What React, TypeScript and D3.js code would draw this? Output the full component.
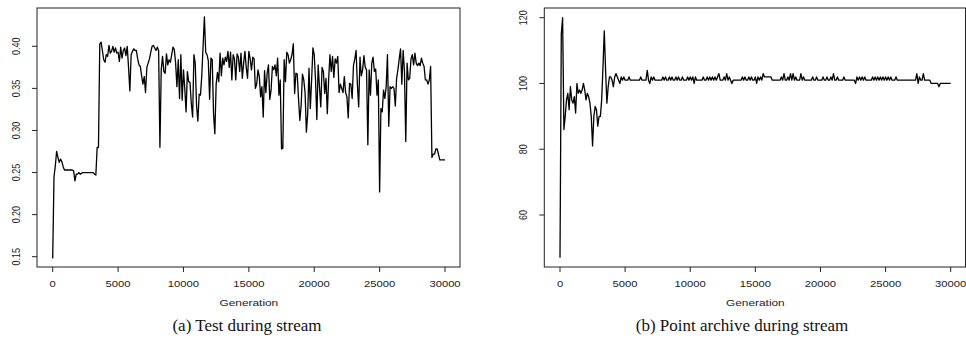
import React from 'react';
import * as d3 from 'd3';

// one sample every 100 generations, 0..30000
const STEP = 100;

const testValues = [
  0.148, 0.245, 0.258, 0.275, 0.268, 0.262, 0.266, 0.263, 0.257, 0.253,
  0.253, 0.253, 0.253, 0.253, 0.253, 0.253, 0.252, 0.240, 0.248, 0.248,
  0.250, 0.248, 0.249, 0.250, 0.250, 0.250, 0.250, 0.250, 0.250, 0.250,
  0.250, 0.250, 0.248, 0.247, 0.280, 0.280, 0.403, 0.405, 0.395, 0.384,
  0.381, 0.390, 0.388, 0.401, 0.392, 0.394, 0.400, 0.393, 0.398, 0.392,
  0.393, 0.382, 0.399, 0.386, 0.395, 0.398, 0.389, 0.400, 0.375, 0.347,
  0.390, 0.394, 0.397, 0.395, 0.395, 0.385, 0.378, 0.376, 0.365, 0.355,
  0.364, 0.345, 0.375, 0.380, 0.385, 0.393, 0.400, 0.401, 0.398, 0.395,
  0.399, 0.395, 0.280, 0.372, 0.388, 0.370, 0.368, 0.391, 0.378, 0.384,
  0.381, 0.390, 0.399, 0.396, 0.380, 0.352, 0.384, 0.338, 0.390, 0.336,
  0.372, 0.350, 0.322, 0.370, 0.358, 0.357, 0.332, 0.316, 0.390, 0.380,
  0.330, 0.311, 0.343, 0.342, 0.365, 0.400, 0.435, 0.393, 0.390, 0.383,
  0.337, 0.386, 0.384, 0.320, 0.296, 0.355, 0.369, 0.358, 0.392, 0.365,
  0.386, 0.378, 0.387, 0.382, 0.394, 0.375, 0.393, 0.360, 0.390, 0.385,
  0.360, 0.391, 0.387, 0.370, 0.392, 0.362, 0.380, 0.394, 0.375, 0.362,
  0.394, 0.385, 0.372, 0.387, 0.385, 0.350, 0.355, 0.372, 0.364, 0.340,
  0.352, 0.316, 0.371, 0.345, 0.368, 0.378, 0.337, 0.348, 0.376, 0.372,
  0.378, 0.365, 0.386, 0.342, 0.360, 0.278, 0.279, 0.384, 0.358, 0.393,
  0.390, 0.380, 0.384, 0.390, 0.403, 0.344, 0.368, 0.367, 0.337, 0.312,
  0.330, 0.367, 0.360, 0.345, 0.298, 0.320, 0.374, 0.326, 0.360, 0.398,
  0.390, 0.360, 0.313, 0.378, 0.352, 0.328, 0.375, 0.370, 0.344, 0.362,
  0.320, 0.360, 0.390, 0.370, 0.388, 0.363, 0.385, 0.380, 0.388, 0.345,
  0.355, 0.350, 0.345, 0.364, 0.345, 0.340, 0.315, 0.356, 0.355, 0.338,
  0.377, 0.385, 0.395, 0.355, 0.328, 0.387, 0.365, 0.372, 0.389, 0.375,
  0.372, 0.283, 0.372, 0.342, 0.380, 0.387, 0.370, 0.373, 0.342, 0.360,
  0.227, 0.326, 0.322, 0.348, 0.338, 0.352, 0.390, 0.305, 0.352, 0.350,
  0.352, 0.350, 0.329, 0.362, 0.372, 0.385, 0.397, 0.355, 0.395, 0.370,
  0.287, 0.380, 0.360, 0.362, 0.385, 0.390, 0.378, 0.392, 0.380, 0.377,
  0.380, 0.377, 0.386, 0.380, 0.376, 0.360, 0.360, 0.355, 0.360, 0.376,
  0.268, 0.272, 0.272, 0.278, 0.278, 0.272, 0.265, 0.265, 0.265, 0.265,
  0.265,
];

const archiveValues = [
  47, 115, 120, 86, 90, 95, 97, 92, 99, 95,
  94, 96, 91, 100, 97, 98, 97, 98, 100, 98,
  95, 97, 96, 94, 90, 81, 90, 93, 92, 87,
  90, 90, 95, 105, 116, 104, 94, 99, 102, 102,
  101, 99, 102, 103, 102, 101, 100, 102, 101, 102,
  101, 101, 101, 102, 101, 101, 101, 101, 101, 101,
  101, 101, 102, 101, 101, 101, 101, 104, 101, 100,
  102, 101, 102, 101, 101, 101, 101, 101, 101, 102,
  101, 102, 101, 101, 102, 101, 102, 101, 101, 102,
  101, 102, 101, 101, 102, 101, 101, 101, 102, 101,
  102, 101, 102, 100, 102, 101, 101, 101, 101, 101,
  102, 101, 101, 102, 101, 102, 101, 102, 101, 102,
  101, 102, 103, 101, 101, 101, 102, 101, 103, 101,
  102, 101, 100, 101, 101, 101, 101, 101, 101, 101,
  102, 101, 102, 101, 101, 102, 101, 102, 101, 101,
  102, 100, 102, 101, 102, 101, 103, 102, 102, 102,
  102, 102, 102, 101, 101, 101, 101, 101, 101, 101,
  102, 101, 103, 101, 101, 102, 101, 103, 101, 103,
  101, 102, 101, 101, 101, 103, 101, 102, 101, 101,
  101, 101, 101, 101, 102, 101, 101, 102, 101, 101,
  101, 101, 102, 101, 101, 102, 101, 101, 102, 101,
  103, 101, 101, 102, 101, 101, 101, 101, 102, 101,
  101, 101, 101, 101, 101, 101, 101, 100, 102, 101,
  102, 101, 102, 101, 102, 101, 101, 101, 101, 101,
  102, 101, 102, 101, 102, 101, 102, 101, 102, 101,
  102, 101, 102, 101, 102, 101, 101, 101, 102, 101,
  101, 101, 101, 101, 101, 101, 101, 101, 101, 101,
  101, 101, 101, 101, 103, 100, 102, 101, 101, 103,
  101, 101, 101, 101, 101, 100, 100, 100, 100, 100,
  100, 99, 100, 100, 100, 100, 100, 100, 100, 100,
  100,
];

const xTicks = [0, 5000, 10000, 15000, 20000, 25000, 30000];
const testTicks = [0.15, 0.2, 0.25, 0.3, 0.35, 0.4];
const archiveTicks = [60, 80, 100, 120];

const SANS = 'Liberation Sans, Arial, sans-serif';
const STRETCH = 1.25;
const BOX_TOP = 8;
const BOX_BOTTOM = 267;

type PanelProps = {
  values: number[];
  yTicks: number[];
  yFormat: (v: number) => string;
  boxLeft: number;
  boxRight: number;
  xRange: [number, number];
  yDomain: [number, number];
  yRange: [number, number];
  yLabelX: number;
  caption: string;
  captionX: number;
};

const Panel = ({ values, yTicks, yFormat, boxLeft, boxRight, xRange, yDomain, yRange, yLabelX, caption, captionX }: PanelProps) => {
  const x = d3.scaleLinear().domain([0, 30000]).range(xRange);
  const y = d3.scaleLinear().domain(yDomain).range(yRange);
  const line = d3.line<number>()
    .x((d, i) => x(i * STEP))
    .y(d => y(d));
  const midX = (xRange[0] + xRange[1]) / 2;

  return (
    <g>
      <rect x={boxLeft} y={BOX_TOP} width={boxRight - boxLeft} height={BOX_BOTTOM - BOX_TOP}
        fill="none" stroke="#222" strokeWidth={1} />

      {/* x axis */}
      {xTicks.map(t => (
        <g key={t}>
          <line x1={x(t)} x2={x(t)} y1={BOX_BOTTOM} y2={BOX_BOTTOM + 5} stroke="#222" strokeWidth={1} />
          <text transform={`translate(${x(t)},286.5) scale(${STRETCH},1)`} textAnchor="middle"
            fontFamily={SANS} fontSize={9} fill="#222">{t}</text>
        </g>
      ))}
      <text transform={`translate(${midX},305.5) scale(${STRETCH},1)`} textAnchor="middle"
        fontFamily={SANS} fontSize={9.5} fill="#222">Generation</text>

      {/* y axis */}
      {yTicks.map(t => (
        <g key={t}>
          <line x1={boxLeft - 5} x2={boxLeft} y1={y(t)} y2={y(t)} stroke="#222" strokeWidth={1} />
          <text transform={`translate(${yLabelX},${y(t)}) scale(${STRETCH},1) rotate(-90)`} textAnchor="middle"
            fontFamily={SANS} fontSize={9} fill="#222">{yFormat(t)}</text>
        </g>
      ))}

      <path d={line(values) || ''} fill="none" stroke="#000" strokeWidth={1.3} strokeLinejoin="round" />

      <text x={captionX} y={331} textAnchor="middle" fontFamily="Liberation Serif, serif" fontSize={17} fill="#111">
        {caption}
      </text>
    </g>
  );
};

export default function App() {
  return (
    <svg width={966} height={350} style={{ position: 'absolute', left: 0, top: 0, background: '#fff' }}>
      <Panel
        values={testValues}
        yTicks={testTicks}
        yFormat={d3.format('.2f')}
        boxLeft={37}
        boxRight={460}
        xRange={[52.7, 445]}
        yDomain={[0.15, 0.4]}
        yRange={[256.7, 46.3]}
        yLabelX={19.7}
        caption="(a)  Test during stream"
        captionX={247}
      />
      <Panel
        values={archiveValues}
        yTicks={archiveTicks}
        yFormat={d3.format('d')}
        boxLeft={544.3}
        boxRight={965.5}
        xRange={[560, 950.7]}
        yDomain={[60, 120]}
        yRange={[215, 17.7]}
        yLabelX={526.7}
        caption="(b)  Point archive during stream"
        captionX={742}
      />
    </svg>
  );
}
